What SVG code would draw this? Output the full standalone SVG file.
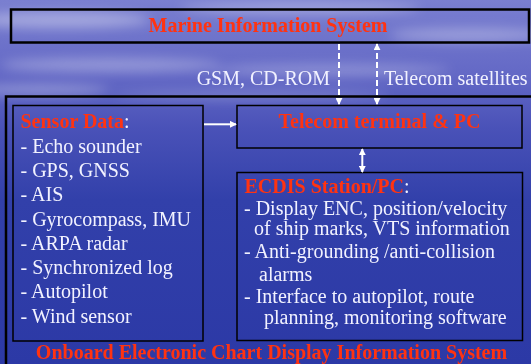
<svg xmlns="http://www.w3.org/2000/svg" width="531" height="364" viewBox="0 0 531 364">
<style>
.box{fill:none;stroke:#000;}
.t{font-family:"Liberation Serif","Times New Roman",serif;font-size:20px;fill:#f2f2ff;}
.r{font-family:"Liberation Serif","Times New Roman",serif;font-size:20px;font-weight:bold;fill:#ff3311;}
.c{stroke:#fff;stroke-width:2;fill:none;}
.d{stroke-dasharray:6,3;}
</style>
<defs>
<linearGradient id="bg" x1="0" y1="0" x2="0" y2="1">
<stop offset="0" stop-color="#7a7fd0"/>
<stop offset="0.2" stop-color="#6469c6"/>
<stop offset="0.35" stop-color="#4a52b8"/>
<stop offset="0.55" stop-color="#3240aa"/>
<stop offset="1" stop-color="#2c39a6"/>
</linearGradient>
<filter id="blur" x="-50%" y="-50%" width="200%" height="200%"><feGaussianBlur stdDeviation="6"/></filter>
<marker id="ah" viewBox="0 0 8 8" refX="7" refY="4" markerWidth="7" markerHeight="7" markerUnits="userSpaceOnUse" orient="auto-start-reverse">
<path d="M0,0 L8,4 L0,8 z" fill="#fff"/>
</marker>
</defs>
<rect x="0" y="0" width="531" height="364" fill="url(#bg)"/>
<g filter="url(#blur)" fill="#fff">
<ellipse cx="60" cy="20" rx="90" ry="8" opacity="0.35"/>
<ellipse cx="300" cy="8" rx="120" ry="6" opacity="0.3"/>
<ellipse cx="470" cy="35" rx="80" ry="7" opacity="0.3"/>
<ellipse cx="110" cy="65" rx="110" ry="7" opacity="0.3"/>
<ellipse cx="330" cy="70" rx="120" ry="6" opacity="0.25"/>
<ellipse cx="40" cy="90" rx="70" ry="6" opacity="0.3"/>
<ellipse cx="250" cy="95" rx="140" ry="5" opacity="0.2"/>
</g>

<g id="marine-information-system">
<rect class="box" x="11" y="9.5" width="518" height="33" stroke-width="2.5"/>
<text class="r" x="268" y="31.5" text-anchor="middle">Marine Information System</text>
</g>

<g id="onboard-ecdis">
<rect class="box" x="6" y="96.5" width="540" height="290" stroke-width="2.5"/>
<text class="r" x="271.5" y="359" text-anchor="middle">Onboard Electronic Chart Display Information System</text>
</g>

<g id="sensor-data">
<rect class="box" x="13" y="105.5" width="190" height="235.5" stroke-width="1.5"/>
<text class="t" x="20.5" y="128.3"><tspan class="r">Sensor Data</tspan>:</text>
<text class="t" x="20.5" y="152.6">- Echo sounder</text>
<text class="t" x="20.5" y="176.9">- GPS, GNSS</text>
<text class="t" x="20.5" y="201.2">- AIS</text>
<text class="t" x="20.5" y="225.5">- Gyrocompass, IMU</text>
<text class="t" x="20.5" y="249.8">- ARPA radar</text>
<text class="t" x="20.5" y="274.1">- Synchronized log</text>
<text class="t" x="20.5" y="298.4">- Autopilot</text>
<text class="t" x="20.5" y="322.7">- Wind sensor</text>
</g>

<g id="telecom-terminal">
<rect class="box" x="237" y="105.5" width="285" height="42.5" stroke-width="1.5"/>
<text class="r" x="379.5" y="128.3" text-anchor="middle">Telecom terminal &amp; PC</text>
</g>

<g id="ecdis-station">
<rect class="box" x="237" y="172.5" width="285.5" height="168" stroke-width="1.5"/>
<text class="t" x="244.5" y="193.3"><tspan class="r">ECDIS Station/PC</tspan>:</text>
<text class="t" x="244" y="215">- Display ENC, position/velocity</text>
<text class="t" x="254" y="235">of ship marks, VTS information</text>
<text class="t" x="244" y="258.3">- Anti-grounding /anti-collision</text>
<text class="t" x="259" y="280.5">alarms</text>
<text class="t" x="244" y="303.3">- Interface to autopilot, route</text>
<text class="t" x="264" y="324">planning, monitoring software</text>
</g>

<g id="connectors">
<line class="c d" x1="339" y1="44" x2="339" y2="104" marker-end="url(#ah)"/>
<line class="c d" x1="377" y1="44" x2="377" y2="104" marker-start="url(#ah)" marker-end="url(#ah)"/>
<line class="c" x1="204" y1="124.3" x2="236" y2="124.3" marker-end="url(#ah)"/>
<line class="c" x1="362.3" y1="149" x2="362.3" y2="172" marker-start="url(#ah)" marker-end="url(#ah)"/>
<text class="t" x="330" y="85" text-anchor="end">GSM, CD-ROM</text>
<text class="t" x="384" y="85">Telecom satellites</text>
</g>
</svg>
